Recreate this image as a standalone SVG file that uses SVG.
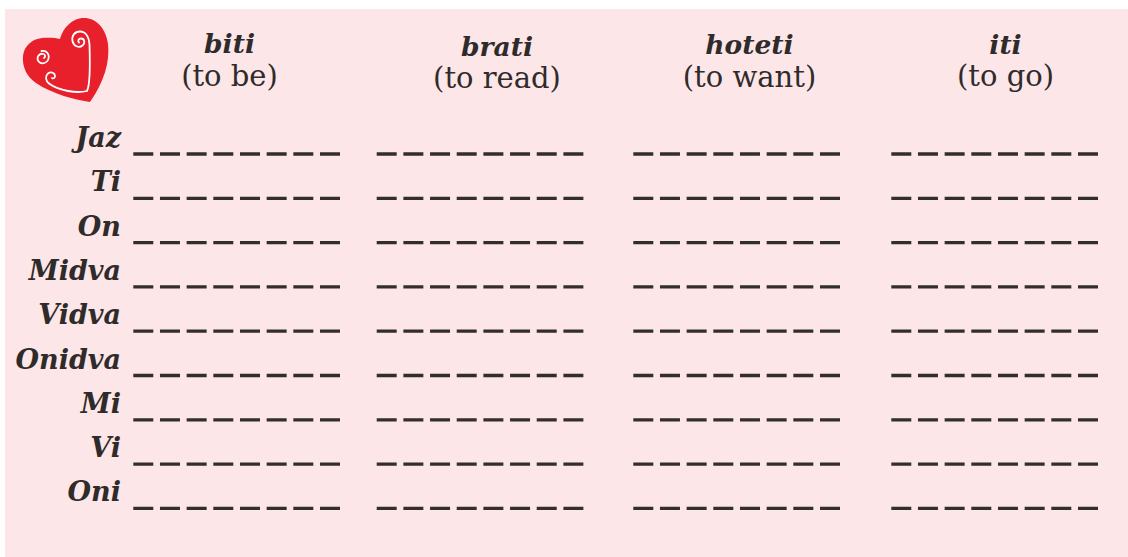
<svg xmlns="http://www.w3.org/2000/svg" width="1128" height="557" viewBox="0 0 1128 557">
<style>
.hb{font-family:"DejaVu Serif","Liberation Serif",serif;font-weight:bold;font-style:italic;font-size:26.5px;fill:#2f2b2b;text-anchor:middle}
.hr{font-family:"DejaVu Serif","Liberation Serif",serif;font-size:29px;fill:#2f2b2b;text-anchor:middle}
.lb{font-family:"DejaVu Serif","Liberation Serif",serif;font-weight:bold;font-style:italic;font-size:27px;fill:#2f2b2b;text-anchor:end}
.d{stroke:#332e2e;stroke-width:3.3;stroke-dasharray:20 6.67;fill:none}
</style>
<rect width="1128" height="557" fill="#ffffff"/>
<rect x="5" y="9" width="1123" height="548" fill="#fde6e7"/>
<g id="heart">
<path d="M60 39 C63 28 72 18 84 18 C96 18 106 28 108 44 C110 62 104 82 90 102 C76 100 52 94 36 83 C27 77 22 67 23 56 C24 46 32 39 42 38 C50 37.5 56 38 60 39 Z" fill="#e8202c"/>
<g fill="none" stroke="#ffffff" stroke-width="1.8" stroke-linecap="round">
<path d="M52 78 C53.5 79 55.5 77.5 55 75.5 C54.5 72.5 50.5 71.5 48 73.5 C45 76 45.5 81 49 83.5 C53 86.5 60 89.5 68 91 C76 92.5 83 92 87 91 C90 85 90 60 89.5 45 C89 36 85 31.5 80 31.5 C74.5 31.5 71.5 36 72.5 41 C73.5 46 79 48.5 82.5 45.5 C85.5 43 84.5 38.5 81 38.5 C78.5 38.5 77.5 41 79 42.5"/>
<path d="M44 58 C45.5 57 45.5 54.5 43.5 54 C40.5 53 37.5 55.5 37.5 58.5 C37.5 62 41 64 44.5 63 C48 62 49.5 58 48.5 55 C47.5 52 44.5 50.5 41.5 51"/>
</g>
</g>
<g id="headers">
<g id="h-biti"><text class="hb" x="229.5" y="53">biti</text><text class="hr" x="229.5" y="86">(to be)</text></g>
<g id="h-brati"><text class="hb" x="497" y="56">brati</text><text class="hr" x="497" y="88">(to read)</text></g>
<g id="h-hoteti"><text class="hb" x="749.5" y="54">hoteti</text><text class="hr" x="749.5" y="87">(to want)</text></g>
<g id="h-iti"><text class="hb" x="1005.5" y="54">iti</text><text class="hr" x="1005.5" y="86">(to go)</text></g>
</g>
<g id="labels">
<text class="lb" x="121" y="147">Jaz</text>
<text class="lb" x="121" y="191.3">Ti</text>
<text class="lb" x="121" y="235.6">On</text>
<text class="lb" x="121" y="279.9">Midva</text>
<text class="lb" x="121" y="324.2">Vidva</text>
<text class="lb" x="121" y="368.5">Onidva</text>
<text class="lb" x="121" y="412.8">Mi</text>
<text class="lb" x="121" y="457.1">Vi</text>
<text class="lb" x="121" y="501.4">Oni</text>
</g>
<g id="connectors">
<g id="row-lines">
<path class="d" d="M133.3 154H340M376.7 154H583.4M633.3 154H840M891.3 154H1098"/>
<path class="d" d="M133.3 198.3H340M376.7 198.3H583.4M633.3 198.3H840M891.3 198.3H1098"/>
<path class="d" d="M133.3 242.6H340M376.7 242.6H583.4M633.3 242.6H840M891.3 242.6H1098"/>
<path class="d" d="M133.3 286.9H340M376.7 286.9H583.4M633.3 286.9H840M891.3 286.9H1098"/>
<path class="d" d="M133.3 331.2H340M376.7 331.2H583.4M633.3 331.2H840M891.3 331.2H1098"/>
<path class="d" d="M133.3 375.5H340M376.7 375.5H583.4M633.3 375.5H840M891.3 375.5H1098"/>
<path class="d" d="M133.3 419.8H340M376.7 419.8H583.4M633.3 419.8H840M891.3 419.8H1098"/>
<path class="d" d="M133.3 464.1H340M376.7 464.1H583.4M633.3 464.1H840M891.3 464.1H1098"/>
<path class="d" d="M133.3 508.4H340M376.7 508.4H583.4M633.3 508.4H840M891.3 508.4H1098"/>
</g>
</g>
</svg>
